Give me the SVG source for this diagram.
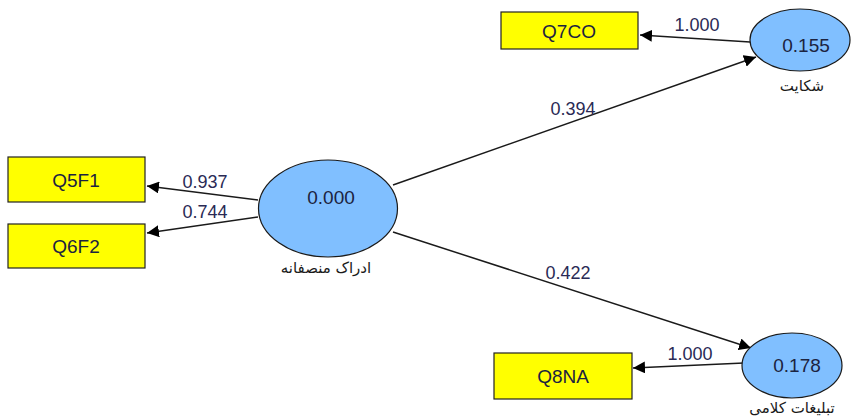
<svg xmlns="http://www.w3.org/2000/svg" width="852" height="420" viewBox="0 0 852 420">
<defs>
<marker id="ah" viewBox="0 0 10 10" refX="10" refY="5" markerWidth="12" markerHeight="12" markerUnits="userSpaceOnUse" orient="auto">
<path d="M0,0 L10,5 L0,10 z" fill="#000"/>
</marker>
<style>
.lv{fill:#80bfff;stroke:#1a1a1a;stroke-width:1.2}
.mv{fill:#ffff00;stroke:#222;stroke-width:1.2}
.c{stroke:#1a1a1a;stroke-width:1.5;fill:none;marker-end:url(#ah)}
.t{font-family:"Liberation Sans",Arial,sans-serif;font-size:19px;fill:#1c2340;text-anchor:middle}
.n{font-family:"Liberation Sans",Arial,sans-serif;font-size:18px;fill:#2a2a55;text-anchor:middle}
.fa{font-family:"DejaVu Sans","Noto Sans",sans-serif;font-size:15px;fill:#1a1a1a;text-anchor:middle}
</style>
</defs>
<rect width="852" height="420" fill="#fff"/>
<g id="connectors">
<line class="c" x1="750" y1="42" x2="640" y2="35"/>
<line class="c" x1="393" y1="185" x2="756" y2="57"/>
<line class="c" x1="393" y1="232" x2="751" y2="348"/>
<line class="c" x1="744" y1="363" x2="633" y2="368"/>
<line class="c" x1="258" y1="200" x2="147" y2="186"/>
<line class="c" x1="258" y1="217" x2="147" y2="233"/>
<text class="n" x="697" y="31">1.000</text>
<text class="n" x="573" y="115">0.394</text>
<text class="n" x="568" y="279">0.422</text>
<text class="n" x="690" y="360">1.000</text>
<text class="n" x="205" y="188">0.937</text>
<text class="n" x="205" y="218">0.744</text>
</g>
<g id="n_fair">
<ellipse class="lv" cx="328" cy="208.5" rx="69.5" ry="48.5"/>
<text class="t" x="331" y="204">0.000</text>
<text class="fa" x="326" y="273">ادراک منصفانه</text>
</g>
<g id="n_complaint">
<ellipse class="lv" cx="800" cy="40" rx="50" ry="31"/>
<text class="t" x="806" y="52">0.155</text>
<text class="fa" x="802" y="91">شکایت</text>
</g>
<g id="n_wom">
<ellipse class="lv" cx="792" cy="365.5" rx="50" ry="32.5"/>
<text class="t" x="797" y="372">0.178</text>
<text class="fa" x="792" y="413" font-size="14">تبلیغات کلامی</text>
</g>
<g id="n_q7co">
<rect class="mv" x="501" y="12" width="137" height="37"/>
<text class="t" x="569" y="38">Q7CO</text>
</g>
<g id="n_q5f1">
<rect class="mv" x="8" y="157" width="137" height="45"/>
<text class="t" x="76" y="187">Q5F1</text>
</g>
<g id="n_q6f2">
<rect class="mv" x="8" y="224" width="137" height="44"/>
<text class="t" x="76" y="253">Q6F2</text>
</g>
<g id="n_q8na">
<rect class="mv" x="494" y="353" width="138" height="46"/>
<text class="t" x="563" y="383">Q8NA</text>
</g>
</svg>
